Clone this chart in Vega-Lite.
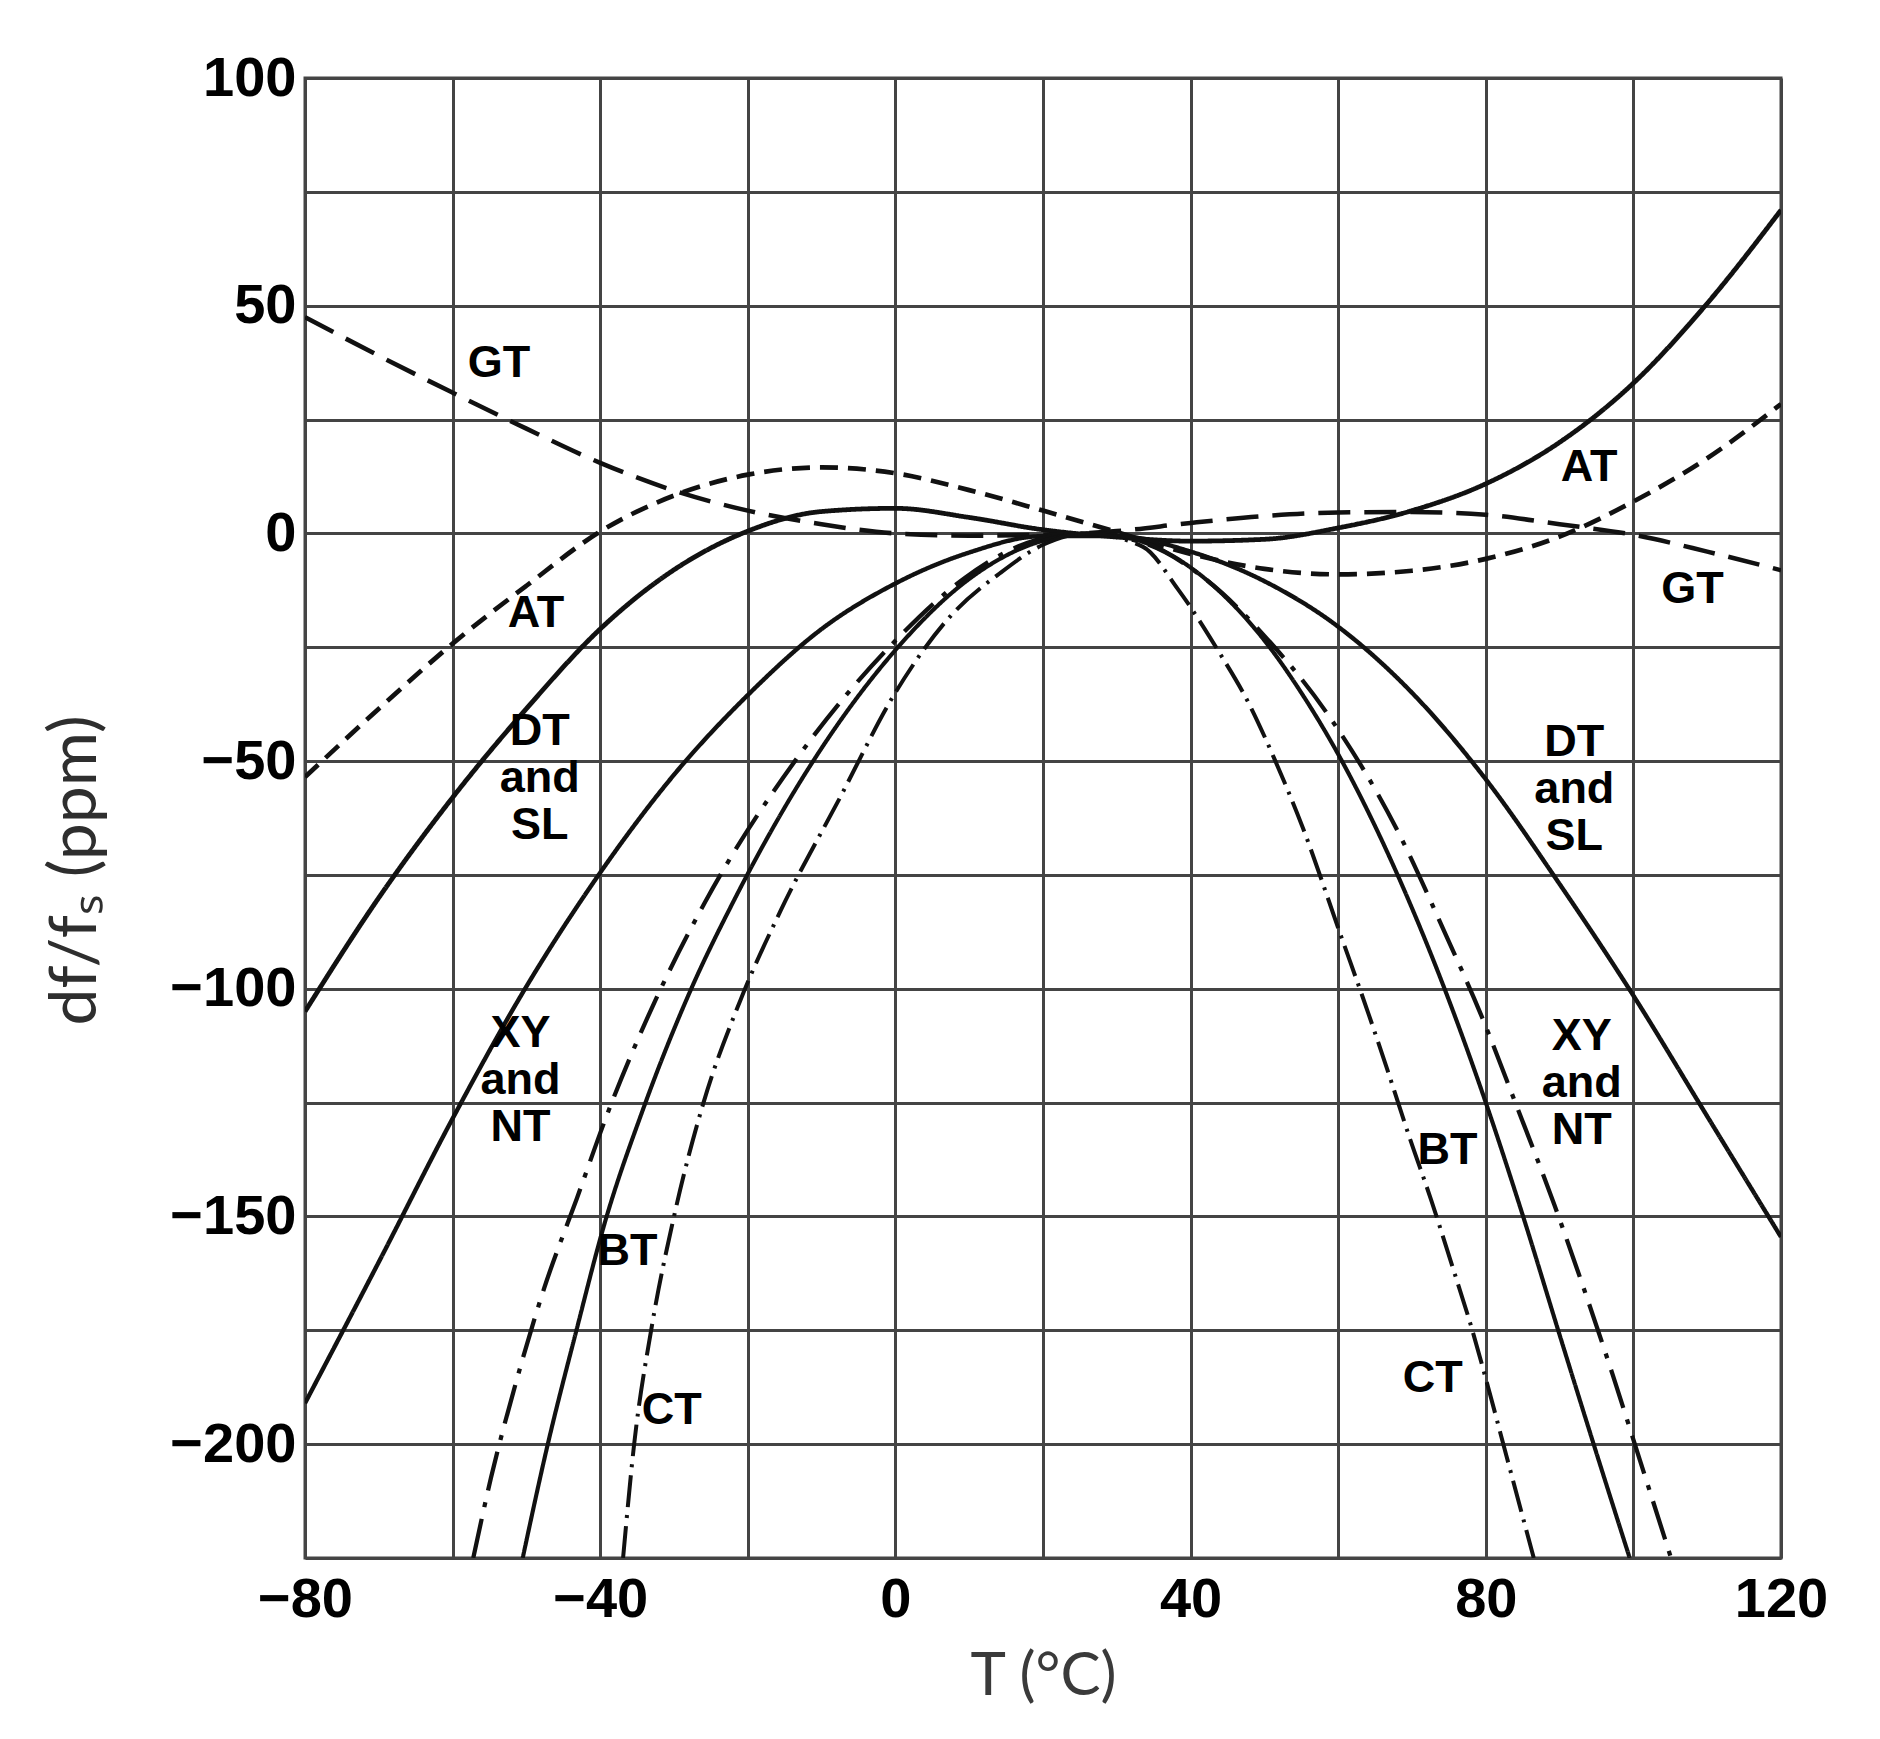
{
  "$schema": "https://vega.github.io/schema/vega-lite/v6.json",
  "width": 1476,
  "height": 1480,
  "autosize": {"type": "none"},
  "padding": {"left": 305, "top": 78, "right": 99, "bottom": 181},
  "background": "white",
  "config": {"view": {"stroke": "#444444", "strokeWidth": 3}},
  "datasets": {
    "curves": [
      {"curve": "AT1", "T": -80, "ppm": -105},
      {"curve": "AT1", "T": -70, "ppm": -80},
      {"curve": "AT1", "T": -60, "ppm": -58},
      {"curve": "AT1", "T": -50, "ppm": -38.5},
      {"curve": "AT1", "T": -40, "ppm": -21},
      {"curve": "AT1", "T": -30, "ppm": -8},
      {"curve": "AT1", "T": -20, "ppm": 0.5},
      {"curve": "AT1", "T": -10, "ppm": 4.8},
      {"curve": "AT1", "T": 0, "ppm": 5.5},
      {"curve": "AT1", "T": 10, "ppm": 3.5},
      {"curve": "AT1", "T": 20, "ppm": 0.8},
      {"curve": "AT1", "T": 30, "ppm": -0.8},
      {"curve": "AT1", "T": 40, "ppm": -1.7},
      {"curve": "AT1", "T": 50, "ppm": -1.3},
      {"curve": "AT1", "T": 60, "ppm": 1.2},
      {"curve": "AT1", "T": 70, "ppm": 5},
      {"curve": "AT1", "T": 80, "ppm": 10.9},
      {"curve": "AT1", "T": 90, "ppm": 20},
      {"curve": "AT1", "T": 100, "ppm": 33},
      {"curve": "AT1", "T": 110, "ppm": 50.5},
      {"curve": "AT1", "T": 120, "ppm": 71},
      {"curve": "AT2", "T": -80, "ppm": -53.5},
      {"curve": "AT2", "T": -70, "ppm": -38.5},
      {"curve": "AT2", "T": -60, "ppm": -24.2},
      {"curve": "AT2", "T": -50, "ppm": -11.5},
      {"curve": "AT2", "T": -40, "ppm": 0.4},
      {"curve": "AT2", "T": -30, "ppm": 8.3},
      {"curve": "AT2", "T": -20, "ppm": 12.9},
      {"curve": "AT2", "T": -10, "ppm": 14.5},
      {"curve": "AT2", "T": 0, "ppm": 13.2},
      {"curve": "AT2", "T": 10, "ppm": 9.5},
      {"curve": "AT2", "T": 20, "ppm": 5},
      {"curve": "AT2", "T": 30, "ppm": 0.3},
      {"curve": "AT2", "T": 40, "ppm": -4.5},
      {"curve": "AT2", "T": 50, "ppm": -7.8},
      {"curve": "AT2", "T": 60, "ppm": -9},
      {"curve": "AT2", "T": 70, "ppm": -8.2},
      {"curve": "AT2", "T": 80, "ppm": -5.6},
      {"curve": "AT2", "T": 90, "ppm": -0.7},
      {"curve": "AT2", "T": 100, "ppm": 7},
      {"curve": "AT2", "T": 110, "ppm": 16.5},
      {"curve": "AT2", "T": 120, "ppm": 28.4},
      {"curve": "GT", "T": -80, "ppm": 47.5},
      {"curve": "GT", "T": -70, "ppm": 39},
      {"curve": "GT", "T": -60, "ppm": 30.9},
      {"curve": "GT", "T": -50, "ppm": 23},
      {"curve": "GT", "T": -40, "ppm": 15.5},
      {"curve": "GT", "T": -30, "ppm": 9.4},
      {"curve": "GT", "T": -20, "ppm": 5},
      {"curve": "GT", "T": -10, "ppm": 2},
      {"curve": "GT", "T": 0, "ppm": 0},
      {"curve": "GT", "T": 10, "ppm": -0.5},
      {"curve": "GT", "T": 20, "ppm": -0.3},
      {"curve": "GT", "T": 30, "ppm": 0.5},
      {"curve": "GT", "T": 40, "ppm": 2.3},
      {"curve": "GT", "T": 50, "ppm": 3.8},
      {"curve": "GT", "T": 60, "ppm": 4.6},
      {"curve": "GT", "T": 70, "ppm": 4.7},
      {"curve": "GT", "T": 80, "ppm": 4.1},
      {"curve": "GT", "T": 90, "ppm": 2},
      {"curve": "GT", "T": 100, "ppm": -0.3},
      {"curve": "GT", "T": 110, "ppm": -4},
      {"curve": "GT", "T": 120, "ppm": -8.1},
      {"curve": "DT", "T": -80, "ppm": -191},
      {"curve": "DT", "T": -70, "ppm": -160},
      {"curve": "DT", "T": -60, "ppm": -128.5},
      {"curve": "DT", "T": -50, "ppm": -99.5},
      {"curve": "DT", "T": -40, "ppm": -74.5},
      {"curve": "DT", "T": -30, "ppm": -53},
      {"curve": "DT", "T": -20, "ppm": -35.5},
      {"curve": "DT", "T": -10, "ppm": -21},
      {"curve": "DT", "T": 0, "ppm": -11},
      {"curve": "DT", "T": 10, "ppm": -4.2},
      {"curve": "DT", "T": 20, "ppm": -0.6},
      {"curve": "DT", "T": 30, "ppm": -0.6},
      {"curve": "DT", "T": 40, "ppm": -4},
      {"curve": "DT", "T": 50, "ppm": -10.5},
      {"curve": "DT", "T": 60, "ppm": -20.5},
      {"curve": "DT", "T": 70, "ppm": -35},
      {"curve": "DT", "T": 80, "ppm": -54},
      {"curve": "DT", "T": 90, "ppm": -77},
      {"curve": "DT", "T": 100, "ppm": -101.5},
      {"curve": "DT", "T": 110, "ppm": -128},
      {"curve": "DT", "T": 120, "ppm": -154.5},
      {"curve": "XY", "T": -57.2, "ppm": -225},
      {"curve": "XY", "T": -54.8, "ppm": -207.4},
      {"curve": "XY", "T": -51.4, "ppm": -186.4},
      {"curve": "XY", "T": -47.6, "ppm": -165.8},
      {"curve": "XY", "T": -43.2, "ppm": -146.2},
      {"curve": "XY", "T": -38.8, "ppm": -126.5},
      {"curve": "XY", "T": -33.5, "ppm": -106},
      {"curve": "XY", "T": -25.8, "ppm": -81},
      {"curve": "XY", "T": -13.3, "ppm": -49.3},
      {"curve": "XY", "T": -0.2, "ppm": -23.9},
      {"curve": "XY", "T": 9.4, "ppm": -9.8},
      {"curve": "XY", "T": 16.6, "ppm": -2.9},
      {"curve": "XY", "T": 25, "ppm": 0},
      {"curve": "XY", "T": 33, "ppm": -1.8},
      {"curve": "XY", "T": 42, "ppm": -10},
      {"curve": "XY", "T": 50, "ppm": -22.5},
      {"curve": "XY", "T": 58.7, "ppm": -40},
      {"curve": "XY", "T": 68.1, "ppm": -65.5},
      {"curve": "XY", "T": 74.4, "ppm": -87.5},
      {"curve": "XY", "T": 79.3, "ppm": -105.5},
      {"curve": "XY", "T": 84, "ppm": -125},
      {"curve": "XY", "T": 89.3, "ppm": -147.5},
      {"curve": "XY", "T": 93, "ppm": -164.5},
      {"curve": "XY", "T": 97.2, "ppm": -184.8},
      {"curve": "XY", "T": 100.9, "ppm": -203.6},
      {"curve": "XY", "T": 105.1, "ppm": -225},
      {"curve": "BT", "T": -50.5, "ppm": -225},
      {"curve": "BT", "T": -47.1, "ppm": -200},
      {"curve": "BT", "T": -43.3, "ppm": -175.5},
      {"curve": "BT", "T": -39.4, "ppm": -151.5},
      {"curve": "BT", "T": -34.2, "ppm": -126.5},
      {"curve": "BT", "T": -27.8, "ppm": -100.5},
      {"curve": "BT", "T": -22, "ppm": -81},
      {"curve": "BT", "T": -14.2, "ppm": -58},
      {"curve": "BT", "T": -0.2, "ppm": -26},
      {"curve": "BT", "T": 10, "ppm": -10},
      {"curve": "BT", "T": 20, "ppm": -1.6},
      {"curve": "BT", "T": 27, "ppm": 0},
      {"curve": "BT", "T": 35, "ppm": -2.8},
      {"curve": "BT", "T": 40, "ppm": -7.5},
      {"curve": "BT", "T": 45, "ppm": -14.4},
      {"curve": "BT", "T": 50, "ppm": -23.5},
      {"curve": "BT", "T": 55, "ppm": -35},
      {"curve": "BT", "T": 60, "ppm": -48.5},
      {"curve": "BT", "T": 65, "ppm": -64.3},
      {"curve": "BT", "T": 70, "ppm": -82.3},
      {"curve": "BT", "T": 75, "ppm": -102.5},
      {"curve": "BT", "T": 80, "ppm": -125},
      {"curve": "BT", "T": 85, "ppm": -149.7},
      {"curve": "BT", "T": 90, "ppm": -176},
      {"curve": "BT", "T": 95, "ppm": -202},
      {"curve": "BT", "T": 99.5, "ppm": -225},
      {"curve": "CT", "T": -36.9, "ppm": -225},
      {"curve": "CT", "T": -35.4, "ppm": -200},
      {"curve": "CT", "T": -33.1, "ppm": -175},
      {"curve": "CT", "T": -30, "ppm": -150},
      {"curve": "CT", "T": -26, "ppm": -125},
      {"curve": "CT", "T": -21, "ppm": -102.5},
      {"curve": "CT", "T": -15.6, "ppm": -83},
      {"curve": "CT", "T": -7.5, "ppm": -58},
      {"curve": "CT", "T": -0.2, "ppm": -35.5},
      {"curve": "CT", "T": 7.5, "ppm": -18.1},
      {"curve": "CT", "T": 14.2, "ppm": -8.7},
      {"curve": "CT", "T": 20, "ppm": -2.5},
      {"curve": "CT", "T": 26, "ppm": 0},
      {"curve": "CT", "T": 33.5, "ppm": -2.9},
      {"curve": "CT", "T": 38.3, "ppm": -12.3},
      {"curve": "CT", "T": 43.6, "ppm": -25.4},
      {"curve": "CT", "T": 48, "ppm": -37.7},
      {"curve": "CT", "T": 51.3, "ppm": -49.3},
      {"curve": "CT", "T": 55.1, "ppm": -64.2},
      {"curve": "CT", "T": 60.4, "ppm": -88.5},
      {"curve": "CT", "T": 64, "ppm": -105},
      {"curve": "CT", "T": 66.5, "ppm": -117},
      {"curve": "CT", "T": 69.8, "ppm": -133.3},
      {"curve": "CT", "T": 72.6, "ppm": -146.4},
      {"curve": "CT", "T": 75.3, "ppm": -160.1},
      {"curve": "CT", "T": 78.1, "ppm": -174.6},
      {"curve": "CT", "T": 80.5, "ppm": -188.6},
      {"curve": "CT", "T": 82.8, "ppm": -202.6},
      {"curve": "CT", "T": 86.5, "ppm": -225}
    ],
    "labels": [
      {"label": "GT", "T": -53.7, "ppm": 37.5},
      {"label": "AT", "T": -48.7, "ppm": -17.5},
      {"label": "DT\nand\nSL", "T": -48.2, "ppm": -43.3},
      {"label": "XY\nand\nNT", "T": -50.8, "ppm": -109.8},
      {"label": "BT", "T": -36.3, "ppm": -157.5},
      {"label": "CT", "T": -30.3, "ppm": -192.5},
      {"label": "AT", "T": 94, "ppm": 14.5},
      {"label": "GT", "T": 108, "ppm": -12.3},
      {"label": "DT\nand\nSL", "T": 92, "ppm": -45.8},
      {"label": "XY\nand\nNT", "T": 93, "ppm": -110.3},
      {"label": "BT", "T": 74.8, "ppm": -135.5},
      {"label": "CT", "T": 72.8, "ppm": -185.5}
    ]
  },
  "layer": [
    {
      "data": {"name": "curves"},
      "mark": {"type": "line", "interpolate": "monotone", "clip": true, "color": "#111111", "strokeCap": "butt"},
      "encoding": {
        "x": {
          "field": "T", "type": "quantitative",
          "scale": {"domain": [-80, 120], "nice": false, "zero": false},
          "axis": {
            "values": [-80, -60, -40, -20, 0, 20, 40, 60, 80, 100, 120],
            "labelExpr": "datum.value % 40 === 0 ? datum.label : ''",
            "grid": true, "gridColor": "#444444", "gridWidth": 3, "gridOpacity": 1,
            "domain": false, "ticks": false,
            "labelFont": "Liberation Sans", "labelFontWeight": "bold", "labelFontSize": 56,
            "labelColor": "#000000", "labelPadding": 14, "labelFlush": false, "labelOverlap": false,
            "title": "T (°C)", "titleFont": "Lato", "titleFontSize": 60, "titleFontWeight": "normal",
            "titleColor": "#3a3a3a", "titleY": 118, "titleBaseline": "middle"
          }
        },
        "y": {
          "field": "ppm", "type": "quantitative",
          "scale": {"domain": [-225, 100], "nice": false, "zero": false},
          "axis": {
            "values": [-225, -200, -175, -150, -125, -100, -75, -50, -25, 0, 25, 50, 75, 100],
            "labelExpr": "datum.value % 50 === 0 ? datum.label : ''",
            "grid": true, "gridColor": "#444444", "gridWidth": 3, "gridOpacity": 1,
            "domain": false, "ticks": false,
            "labelFont": "Liberation Sans", "labelFontWeight": "bold", "labelFontSize": 56,
            "labelColor": "#000000", "labelPadding": 9, "labelFlush": false, "labelOverlap": false,
            "title": "df/fₛ (ppm)", "titleFont": "Lato", "titleFontSize": 66, "titleFontWeight": "normal",
            "titleColor": "#2e2e2e", "titleX": -230, "titleY": 792, "titleAngle": 270,
            "titleAlign": "center", "titleBaseline": "middle"
          }
        },
        "strokeDash": {
          "field": "curve", "type": "nominal", "legend": null,
          "scale": {
            "domain": ["AT1", "AT2", "GT", "DT", "XY", "BT", "CT"],
            "range": [[1, 0], [18, 10], [32, 14], [1, 0], [40, 12, 5, 12], [1, 0], [32, 8, 3, 8]]
          }
        },
        "strokeWidth": {
          "field": "curve", "type": "ordinal", "legend": null,
          "scale": {
            "domain": ["AT1", "AT2", "GT", "DT", "XY", "BT", "CT"],
            "range": [4.8, 4, 4.5, 4.8, 5.5, 2, 3.5]
          }
        }
      }
    },
    {
      "data": {"name": "labels"},
      "mark": {
        "type": "text", "font": "Liberation Sans", "fontWeight": "bold", "fontSize": 45,
        "lineBreak": "\n", "lineHeight": 47, "align": "center", "baseline": "middle", "color": "#000000"
      },
      "encoding": {
        "x": {"field": "T", "type": "quantitative"},
        "y": {"field": "ppm", "type": "quantitative"},
        "text": {"field": "label"}
      }
    }
  ]
}
